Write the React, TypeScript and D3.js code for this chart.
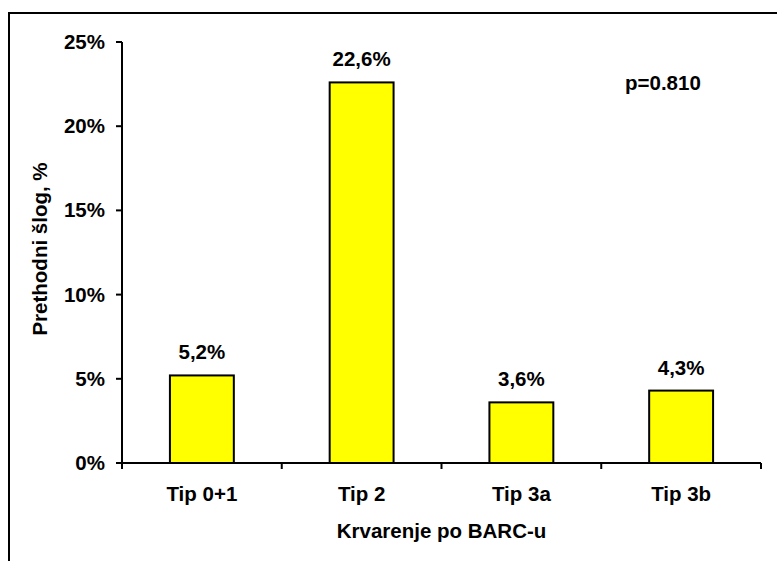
import React from "react";
import * as d3 from "d3";

const categories = ["Tip 0+1", "Tip 2", "Tip 3a", "Tip 3b"];
const values = [5.2, 22.6, 3.6, 4.3];
const valueLabels = ["5,2%", "22,6%", "3,6%", "4,3%"];
const yTicks = [0, 5, 10, 15, 20, 25];

export default function App() {
  const W = 777, H = 561;
  const left = 122, right = 761, top = 42, bottom = 463;
  const x = d3.scaleBand<string>().domain(categories).range([left, right]).paddingInner(0).paddingOuter(0);
  const y = d3.scaleLinear().domain([0, 25]).range([bottom, top]);
  const bw = x.bandwidth() * 0.4;
  const font = "'Liberation Sans', Arial, sans-serif";
  const fs = 20.5;
  const boundaries = [...categories.map((c) => x(c)!), right];
  return (
    <svg width={W} height={H} style={{ position: "absolute", left: 0, top: 0 }} fontFamily={font}>
      <rect x={0} y={0} width={W} height={H} fill="#fff" />
      <rect x={9} y={13} width={W + 20} height={H + 20} fill="none" stroke="#000" strokeWidth={2} />
      {categories.map((c, i) => {
        const cx = x(c)! + x.bandwidth() / 2;
        return (
          <g key={c}>
            <rect x={cx - bw / 2} y={y(values[i])} width={bw} height={bottom - y(values[i])} fill="#ffff00" stroke="#000" strokeWidth={2} />
            <text x={cx} y={y(values[i]) - 16} textAnchor="middle" fontSize={fs} fontWeight="bold">{valueLabels[i]}</text>
            <text x={cx} y={501} textAnchor="middle" fontSize={fs} fontWeight="bold">{c}</text>
          </g>
        );
      })}
      <line x1={left} y1={top} x2={left} y2={bottom} stroke="#000" strokeWidth={2} />
      <line x1={left} y1={bottom} x2={right} y2={bottom} stroke="#000" strokeWidth={2} />
      {yTicks.map((t) => (
        <g key={t}>
          <line x1={left - 6} x2={left} y1={y(t)} y2={y(t)} stroke="#000" strokeWidth={2} />
          <text x={105} y={y(t) + 7} textAnchor="end" fontSize={fs} fontWeight="bold">{t + "%"}</text>
        </g>
      ))}
      {boundaries.map((b, i) => (
        <line key={i} x1={b} x2={b} y1={bottom} y2={bottom + 6} stroke="#000" strokeWidth={2} />
      ))}
      <text x={(left + right) / 2} y={538} textAnchor="middle" fontSize={fs} fontWeight="bold">Krvarenje po BARC-u</text>
      <text transform={`translate(47,249) rotate(-90)`} textAnchor="middle" fontSize={fs} fontWeight="bold">Prethodni šlog, %</text>
      <text x={625} y={90} fontSize={fs} fontWeight="bold">p=0.810</text>
    </svg>
  );
}
